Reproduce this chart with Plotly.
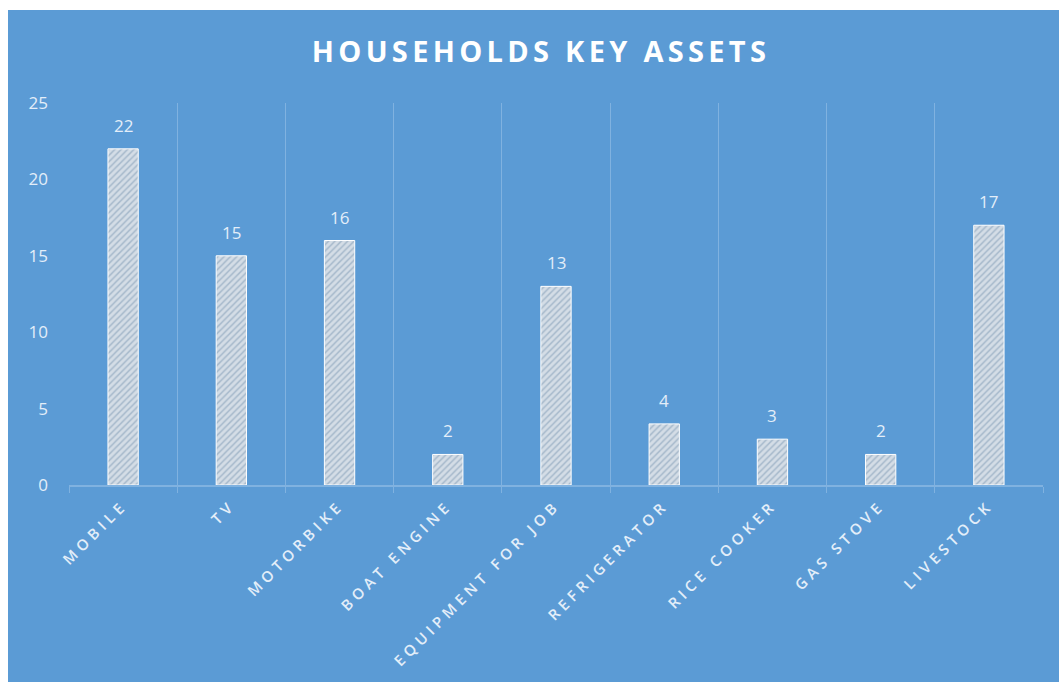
import plotly.graph_objects as go

categories = ["MOBILE", "TV", "MOTORBIKE", "BOAT ENGINE", "EQUIPMENT FOR JOB",
              "REFRIGERATOR", "RICE COOKER", "GAS STOVE", "LIVESTOCK"]
values = [22, 15, 16, 2, 13, 4, 3, 2, 17]
title_text = "HOUSEHOLDS KEY ASSETS"

BLUE = "#5B9BD5"
TEXT = "#E3EEF9"
GRID = "#80B2E0"

W, H = 1059, 682
L, R, T, B = 69, 16, 103, 197
pw, ph = W - L - R, H - T - B

def px_to_paper_x(px):
    return (px - L) / pw

def px_to_paper_y(py):
    return (H - B - py) / ph

tick_labels = [f'<span style="letter-spacing:4.5px">{c}</span>' for c in categories]

fig = go.Figure()
fig.add_trace(go.Bar(
    x=categories,
    y=values,
    width=0.28,
    marker=dict(
        color="#A9BBCD",
        line=dict(color="#FFFFFF", width=1),
        pattern=dict(shape="/", fgcolor="#FFFFFF", size=4.5, solidity=0.62,
                     fillmode="overlay"),
    ),
    hoverinfo="skip",
))

for c, v in zip(categories, values):
    fig.add_annotation(x=c, y=v, text=str(v), showarrow=False,
                       yanchor="bottom", yshift=10,
                       font=dict(family="Open Sans", size=17, color=TEXT))

fig.add_shape(type="rect", xref="paper", yref="paper",
              x0=px_to_paper_x(8), x1=px_to_paper_x(W + 5),
              y0=px_to_paper_y(H + 5), y1=px_to_paper_y(10),
              fillcolor=BLUE, line=dict(width=0), layer="below")

fig.update_layout(
    width=W, height=H,
    margin=dict(l=L, r=R, t=T, b=B),
    paper_bgcolor="#FFFFFF",
    plot_bgcolor="rgba(0,0,0,0)",
    showlegend=False,
    font=dict(family="Open Sans", color=TEXT),
    title=dict(
        text=f'<span style="letter-spacing:4.3px">{title_text}</span>',
        xref="container", yref="container",
        x=541 / W, y=1 - 52 / H, xanchor="center", yanchor="middle",
        font=dict(family="Open Sans", size=29, color="#FFFFFF", weight="bold"),
    ),
    xaxis=dict(
        type="category",
        tickmode="array",
        tickvals=categories,
        ticktext=tick_labels,
        tickangle=-45,
        tickson="boundaries",
        ticks="outside",
        ticklen=6,
        tickcolor=GRID,
        ticklabelstandoff=4,
        showgrid=True,
        gridcolor=GRID,
        gridwidth=1,
        showline=True,
        linecolor=GRID,
        linewidth=1.5,
        tickfont=dict(family="Open Sans", size=15, color=TEXT, weight=600),
        range=[-0.5, len(categories) - 0.5],
        fixedrange=True,
    ),
    yaxis=dict(
        range=[0, 25],
        dtick=5,
        showgrid=False,
        zeroline=False,
        showline=False,
        ticks="",
        ticklabelstandoff=20,
        tickfont=dict(family="Open Sans", size=17, color=TEXT),
        fixedrange=True,
    ),
)

fig.write_html("out.html")
